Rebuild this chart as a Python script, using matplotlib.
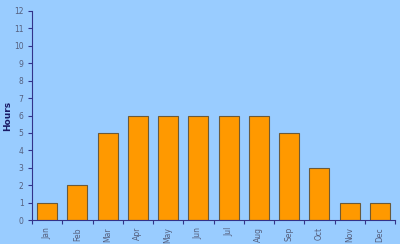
import matplotlib
matplotlib.use("Agg")
import matplotlib.pyplot as plt
import numpy as np

months = ['Jan', 'Feb', 'Mar', 'Apr', 'May', 'Jun', 'Jul', 'Aug', 'Sep', 'Oct', 'Nov', 'Dec']
hours = [1, 2, 5, 6, 6, 6, 6, 6, 5, 3, 1, 1]

bg = '#99ccff'
axis_col = '#33338a'
label_col = '#55607f'

fig = plt.figure(figsize=(4, 2.44), dpi=100, facecolor=bg)
ax = fig.add_axes([0.08, 0.098, 0.9075, 0.857])
ax.set_facecolor(bg)

x = np.arange(len(months))
ax.bar(x, hours, width=0.66, color='#ff9900', edgecolor='#6b5a3a', linewidth=0.8)

ax.set_xlim(-0.5, len(months) - 0.5)
ax.set_ylim(0, 12)
ax.set_yticks(range(0, 13))
ax.set_xticks(x)
ax.set_xticklabels(months, rotation=90)
ax.set_xticks(np.arange(-0.5, len(months)), minor=True)

ax.tick_params(axis='x', which='major', length=0, pad=5, labelsize=5.5, labelcolor=label_col)
ax.tick_params(axis='x', which='minor', length=3, color=axis_col, width=0.8)
ax.tick_params(axis='y', length=3, color=axis_col, width=0.8, pad=3, labelsize=5.5, labelcolor=label_col)

for s in ['top', 'right']:
    ax.spines[s].set_visible(False)
for s in ['left', 'bottom']:
    ax.spines[s].set_color(axis_col)
    ax.spines[s].set_linewidth(0.8)

ax.set_ylabel('Hours', fontsize=6.5, fontweight='bold', color='#1a1a66')
ax.yaxis.set_label_coords(-0.055, 0.5)

fig.savefig('out.png', dpi=100, facecolor=bg)
